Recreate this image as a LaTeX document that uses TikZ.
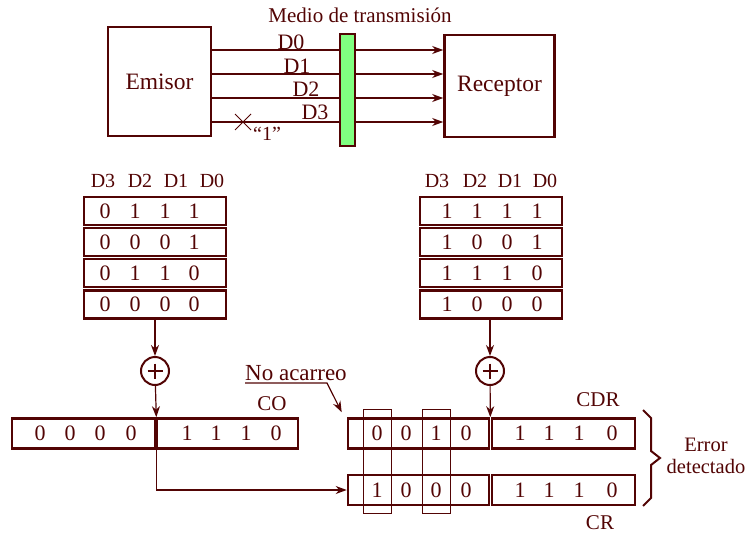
\documentclass[tikz,border=0pt]{standalone}
\usepackage{fontspec}
\setmainfont{Liberation Serif}
\usetikzlibrary{arrows.meta,calc}
\definecolor{ink}{RGB}{82,4,4}
\definecolor{medium}{RGB}{128,255,128}

\begin{document}
\begin{tikzpicture}[x=1pt,y=-1pt,color=ink,text=ink,
  box/.style={draw=ink,line width=2.6pt,inner sep=0pt,rectangle},
  thinline/.style={line width=1.2pt},
  tip/.style={-{Stealth[length=11pt,width=8pt,inset=3.5pt]}},
  big/.style={font=\fontsize{23.5}{26}\selectfont},
  lbl/.style={font=\fontsize{21}{24}\selectfont,inner sep=0pt},
  head/.style={font=\fontsize{20}{22}\selectfont,inner sep=0pt},
  dig/.style={font=\fontsize{22}{24}\selectfont,inner sep=0pt},
  row/.style={box,minimum width=142pt,minimum height=28pt},
  reg/.style={box,minimum height=30pt},
  slot/.style={draw=ink,line width=1pt,minimum width=28pt,minimum height=104pt,inner sep=0pt},
  adder/.style={circle,draw=ink,line width=2pt,minimum size=28pt,inner sep=0pt,
    path picture={\draw[line width=1.5pt]
      ($(path picture bounding box.center)+(-7.5,0)$) -- ++(15,0)
      ($(path picture bounding box.center)+(0,-7.5)$) -- ++(0,15);}},
]
\useasboundingbox (0,0) rectangle (755,535);

% ---------- transmission link ----------
\node[box,minimum width=103pt,minimum height=109pt,big] (emisor) at (159.5,81.5) {Emisor};
\node[box,minimum width=110pt,minimum height=102pt,big] (receptor) at (499.5,86) {Receptor};
\node[lbl] (medio) at (360,15) {Medio de transmisión};

\foreach \i/\y in {0/50,1/74,2/98,3/122}{
  \coordinate (w\i) at (0,\y);
  \draw[thinline,tip] (emisor.east |- w\i) -- (receptor.west |- w\i);
}
\node[lbl,font=\fontsize{22}{24}\selectfont] (d0) at (291,42) {D0};
\node[lbl,font=\fontsize{22}{24}\selectfont] (d1) at (297,66) {D1};
\node[lbl,font=\fontsize{22}{24}\selectfont] (d2) at (306,89) {D2};
\node[lbl,font=\fontsize{22}{24}\selectfont] (d3) at (315,112) {D3};

\node[draw=ink,line width=1.3pt,fill=medium,minimum width=15pt,minimum height=112pt,inner sep=0pt] (bar) at (347.5,90) {};

% broken wire D3
\coordinate (x0) at (243,122);
\draw[line width=1pt] ($(x0)+(-8,-8)$) -- ($(x0)+(8,8)$) ($(x0)+(-8,8)$) -- ($(x0)+(8,-8)$);
\node[head] (one) at (267,134) {“1”};

% ---------- data tables ----------
\foreach \n/\hx in {L/{103,140,176,212},R/{437,475,510,545}}{
  \foreach \h [count=\k from 0] in \hx {
    \pgfmathtruncatemacro{\dd}{3-\k}
    \node[head] (\n h\k) at (\h,181) {D\dd};
  }
}
\foreach \r/\y in {1/211,2/242,3/273,4/304.5}{
  \node[row] (Lrow\r) at (155,\y) {};
  \node[row] (Rrow\r) at (491,\y) {};
}
\foreach \r/\y/\a/\b/\c/\d in {1/211/0/1/1/1,2/242/0/0/0/1,3/273/0/1/1/0,4/304.5/0/0/0/0}{
  \node[dig] (La\r) at (105,\y) {\a};
  \node[dig] (Lb\r) at (135,\y) {\b};
  \node[dig] (Lc\r) at (165,\y) {\c};
  \node[dig] (Ld\r) at (194,\y) {\d};
}
\foreach \r/\y/\a/\b/\c/\d in {1/211/1/1/1/1,2/242/1/0/0/1,3/273/1/1/1/0,4/304.5/1/0/0/0}{
  \node[dig] (Ra\r) at (447,\y) {\a};
  \node[dig] (Rb\r) at (477,\y) {\b};
  \node[dig] (Rc\r) at (507,\y) {\c};
  \node[dig] (Rd\r) at (537,\y) {\d};
}

% ---------- adders ----------
\node[adder] (sumL) at (155,371) {};
\node[adder] (sumR) at (490,371) {};

% ---------- registers ----------
\node[reg,minimum width=143pt] (COL) at (83.5,433.5) {};
\node[reg,minimum width=141pt] (COR) at (227.5,433.5) {};
\node[reg,minimum width=141pt] (CDL) at (418.5,433.5) {};
\node[reg,minimum width=143pt] (CDRr) at (563.5,433.5) {};
\node[reg,minimum width=141pt] (CRL) at (418.5,490) {};
\node[reg,minimum width=143pt] (CRr) at (563.5,490) {};

\node[slot] (s1) at (377,461) {};
\node[slot] (s2) at (436,461) {};

\foreach \x/\v [count=\k] in {40/0,70/0,100/0,131/0,187/1,216/1,246/1,276/0}
  \node[dig] (co\k) at (\x,433.5) {\v};
\foreach \x/\v [count=\k] in {377/0,406/0,436/1,466/0,520/1,549/1,579/1,612/0}
  \node[dig] (cd\k) at (\x,433.5) {\v};
\foreach \x/\v [count=\k] in {377/1,406/0,436/0,466/0,520/1,549/1,579/1,612/0}
  \node[dig] (cr\k) at (\x,490) {\v};

\node[lbl] (colab) at (272,404) {CO};
\node[lbl] (cdrlab) at (598,400) {CDR};
\node[lbl] (crlab) at (600,523) {CR};

% ---------- connectors ----------
\draw[thinline,tip] (Lrow4.south) -- (sumL);
\draw[thinline,tip] (sumL) -- (COL.north east);
\draw[thinline,tip] (COL.south east) |- (CRL.west);
\draw[thinline,tip] (Rrow4.south -| sumR) -- (sumR);
\draw[thinline,tip] (sumR) -- (CDL.north east);

% carry note
\node[lbl,font=\fontsize{23}{25}\selectfont,anchor=south west,inner ysep=2.5pt] (na) at (245,383) {No acarreo};
\coordinate (bend) at (327,383);
\draw[thinline,tip] (na.south west) -- (bend) -- ($(CDL.north west)+(-5,-5)$);

% result brace, drawn with straight strokes
\coordinate (bt) at (643,410);
\coordinate (bb) at (643,506);
\coordinate (bp) at (660,458);
\draw[line width=2pt,line join=miter] (bt) -- (651,418) -- (651,451) -- (bp) -- (651,465) -- (651,498) -- (bb);
\node[lbl,font=\fontsize{20.5}{23}\selectfont,align=center] (err) at (706,456) {Error\\[-1pt]detectado};
\end{tikzpicture}
\end{document}
